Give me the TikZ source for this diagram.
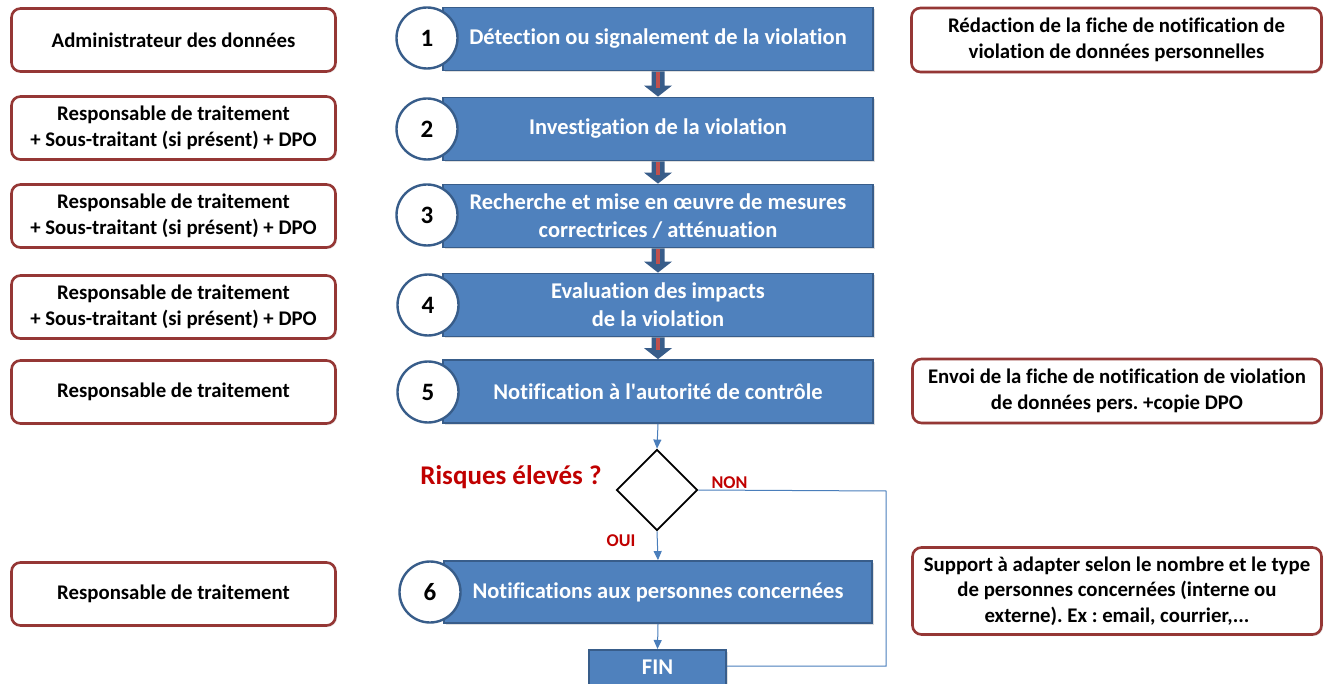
\documentclass[tikz,border=0pt]{standalone}
\usepackage{fontspec}
\setmainfont{Carlito}[Ligatures={NoCommon}]
\frenchspacing
\usetikzlibrary{arrows.meta,shapes.geometric,shadows,calc}
\definecolor{bfill}{HTML}{4F81BD}
\definecolor{bdraw}{HTML}{385D8A}
\definecolor{rdraw}{HTML}{953735}
\definecolor{rtext}{HTML}{C00000}
\definecolor{arr}{HTML}{4A7EBB}
\definecolor{astripe}{HTML}{C0504D}
\tikzset{
  lbox/.style={draw=rdraw, line width=2.6pt, rounded corners=9pt, fill=white, align=center,
    font=\fontsize{20.8}{25.5}\selectfont\bfseries, text=black, inner sep=1pt,
    drop shadow={opacity=0.18, shadow xshift=1.5pt, shadow yshift=-1.5pt}},
  bbox/.style={draw=bdraw, line width=1.8pt, fill=bfill, align=center, text=white,
    font=\fontsize{22.5}{28}\selectfont\bfseries, inner sep=1pt,
    drop shadow={opacity=0.25, shadow xshift=2pt, shadow yshift=-2pt}},
  numc/.style={circle, draw=bdraw, line width=2.4pt, fill=white, minimum size=61pt,
    inner sep=0pt, font=\fontsize{25}{28}\selectfont\bfseries},
  thin/.style={draw=arr, line width=1pt},
  thinarr/.style={thin, -{Triangle[width=8pt,length=9pt]}},
  lab/.style={text=rtext, font=\fontsize{18}{20}\selectfont\bfseries, inner sep=0pt},
}
\newcommand{\bigarr}[2]{%
  \fill[bdraw] ($(#1.south)+(-6.5,0)$) -- ($(#2.north)+(-6.5,-11)$) -- ($(#2.north)+(-14,-11)$)
    -- (#2.north) -- ($(#2.north)+(14,-11)$) -- ($(#2.north)+(6.5,-11)$) -- ($(#1.south)+(6.5,0)$) -- cycle;
  \draw[astripe, line width=3.5pt] ($(#1.south)+(0,1)$) -- ($(#2.north)+(0,-9)$);
}
\begin{document}
\begin{tikzpicture}[x=1pt,y=-1pt]
\useasboundingbox (0,0) rectangle (1328,684);
% left boxes
\node[lbox, minimum width=324pt, minimum height=63pt] (l1) at (173.5,40) {Administrateur des données};
\node[lbox, minimum width=324pt, minimum height=63pt] (l2) at (173.5,128) {Responsable de traitement\\+ Sous-traitant (si présent) + DPO};
\node[lbox, minimum width=324pt, minimum height=63pt] (l3) at (173.5,216) {Responsable de traitement\\+ Sous-traitant (si présent) + DPO};
\node[lbox, minimum width=324pt, minimum height=63pt] (l4) at (173.5,307) {Responsable de traitement\\+ Sous-traitant (si présent) + DPO};
\node[lbox, minimum width=324pt, minimum height=63pt] (l5) at (173.5,392) {Responsable de traitement};
\node[lbox, minimum width=324pt, minimum height=63pt] (l6) at (173.5,594) {Responsable de traitement};
% right boxes
\node[lbox, minimum width=410pt, minimum height=64pt] (r1) at (1116.5,40) {Rédaction de la fiche de notification de\\violation de données personnelles};
\node[lbox, minimum width=409pt, minimum height=64pt] (r5) at (1117,391) {Envoi de la fiche de notification de violation\\de données pers. +copie DPO};
\node[lbox, minimum width=409pt, minimum height=87pt] (r6) at (1117,591) {Support à adapter selon le nombre et le type\\de personnes concernées (interne ou\\externe). Ex : email, courrier,...};
% blue boxes
\node[bbox, minimum width=430pt, minimum height=63pt] (b1) at (658,39) {Détection ou signalement de la violation};
\node[bbox, minimum width=430pt, minimum height=63pt] (b2) at (658,129) {Investigation de la violation};
\node[bbox, minimum width=430pt, minimum height=63pt] (b3) at (658,216) {Recherche et mise en œuvre de mesures\\correctrices / atténuation};
\node[bbox, minimum width=430pt, minimum height=63pt] (b4) at (658,305) {Evaluation des impacts\\de la violation};
\node[bbox, minimum width=430pt, minimum height=63pt] (b5) at (658,391.5) {Notification à l\textquotesingle autorité de contrôle};
\node[bbox, minimum width=428pt, minimum height=62pt] (b6) at (658,592) {Notifications aux personnes concernées};
\node[bbox, minimum width=137pt, minimum height=42pt, anchor=north] (fin) at (657.5,649) {};
\node[text=white, font=\fontsize{22.5}{26}\selectfont\bfseries] (fint) at (657.5,667) {FIN};
% circles
\node[numc] (c1) at (427,38) {1};
\node[numc] (c2) at (427,129) {2};
\node[numc] (c3) at (427,215) {3};
\node[numc] (c4) at (428,305) {4};
\node[numc] (c5) at (428,392) {5};
\node[numc] (c6) at (430,592) {6};
% big arrows
\bigarr{b1}{b2}
\bigarr{b2}{b3}
\bigarr{b3}{b4}
\bigarr{b4}{b5}
% decision
\node[diamond, draw=black, line width=1.8pt, fill=white, minimum width=81pt, minimum height=81pt, inner sep=0pt, aspect=1] (d) at (657,490) {};
\node[text=rtext, font=\fontsize{27}{30}\selectfont\bfseries] (q) at (511,477) {Risques élevés ?};
\node[lab] (non) at (729.5,483) {NON};
\node[lab] (oui) at (621,541) {OUI};
\draw[thinarr] (b5.south) -- (d.north);
\draw[thinarr] (d.south) -- (b6.north);
\draw[thinarr] (b6.south) -- (fin.north);
\coordinate (k1) at (886,491);
\coordinate (k2) at (886,666);
\draw[thin] (d.east) -- (k1) -- (k2) -- (k2 -| fin.east);
\end{tikzpicture}
\end{document}
